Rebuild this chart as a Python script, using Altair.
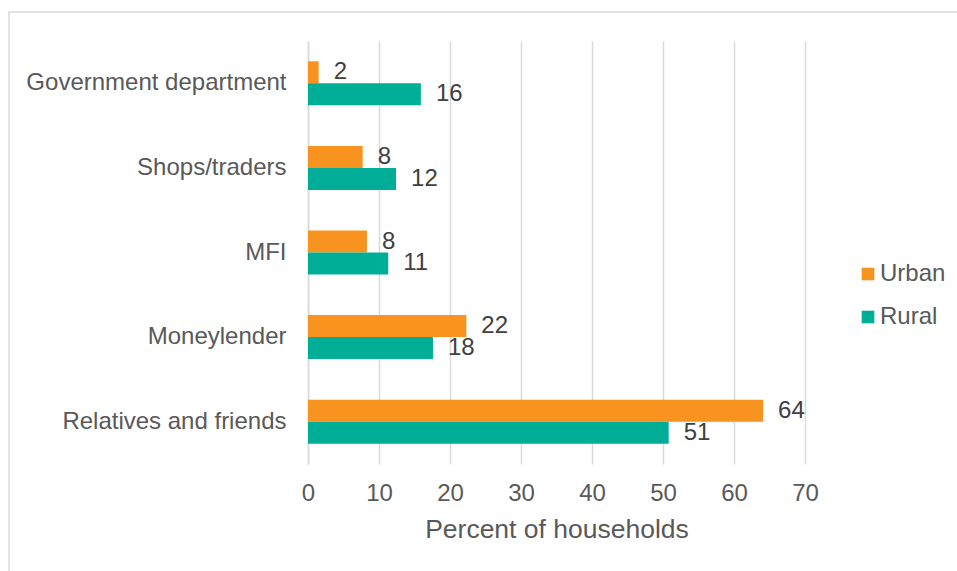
import altair as alt
import pandas as pd

categories = ["Government department", "Shops/traders", "MFI", "Moneylender", "Relatives and friends"]
urban_values = [1.5, 7.7, 8.3, 22.3, 64.1]
rural_values = [15.9, 12.4, 11.3, 17.6, 50.8]
urban_labels = ["2", "8", "8", "22", "64"]
rural_labels = ["16", "12", "11", "18", "51"]
series = ["Urban", "Rural"]
colors = ["#F7931E", "#00AE98"]

rows = []
for c, v, l in zip(categories, urban_values, urban_labels):
    rows.append({"cat": c, "series": "Urban", "value": v, "label": l})
for c, v, l in zip(categories, rural_values, rural_labels):
    rows.append({"cat": c, "series": "Rural", "value": v, "label": l})
df = pd.DataFrame(rows)

FONT = "Liberation Sans"
TXT = "#595959"

y_enc = alt.Y("cat:N", sort=categories, title=None,
              scale=alt.Scale(paddingInner=0.48, paddingOuter=0.24),
              axis=alt.Axis(labelFont=FONT, labelFontSize=24, labelColor=TXT,
                            labelPadding=22, labelLimit=400, ticks=False, domain=True,
                            domainColor="#d9d9d9", domainWidth=1.5, grid=False))
x_enc = alt.X("value:Q", title="Percent of households",
              scale=alt.Scale(domain=[0, 70], nice=False),
              axis=alt.Axis(values=[0, 10, 20, 30, 40, 50, 60, 70],
                            labelFont=FONT, labelFontSize=24, labelColor=TXT,
                            labelPadding=17, labelFlush=False, ticks=False, domain=False,
                            grid=True, gridColor="#d9d9d9", gridWidth=1.5,
                            titleFont=FONT, titleFontSize=26.5, titleColor=TXT,
                            titleFontWeight="normal", titlePadding=11))
yoff = alt.YOffset("series:N", sort=series, scale=alt.Scale(paddingInner=0, paddingOuter=0))

bars = alt.Chart(df).mark_bar(size=22).encode(
    x=x_enc, y=y_enc, yOffset=yoff,
    color=alt.Color("series:N", sort=series,
                    scale=alt.Scale(domain=series, range=colors),
                    legend=alt.Legend(title=None, orient="none", legendX=548, legendY=221,
                                      symbolType="square", symbolSize=160,
                                      symbolStrokeWidth=0,
                                      labelFont=FONT, labelFontSize=24, labelColor=TXT,
                                      labelOffset=0, rowPadding=19, padding=0))
)

texts = alt.Chart(df).mark_text(align="left", baseline="middle", dx=15,
                                font=FONT, fontSize=24, color="#404040").encode(
    x="value:Q", y=alt.Y("cat:N", sort=categories), yOffset=yoff, text="label:N"
)

frame = alt.Chart(alt.Data(values=[{"a": 1}])).mark_rect(
    fill=None, stroke="#d9d9d9", strokeWidth=1.5
).encode(x=alt.value(-299), x2=alt.value(700), y=alt.value(-29), y2=alt.value(600))

chart = alt.layer(frame, bars, texts).properties(
    width=497, height=423,
    autosize=alt.AutoSizeParams(type="none"),
    padding={"left": 308, "top": 41, "right": 152, "bottom": 107},
    background="white"
).configure_view(stroke=None)

chart.save("out.html", embed_options={"renderer": "svg", "actions": False})
